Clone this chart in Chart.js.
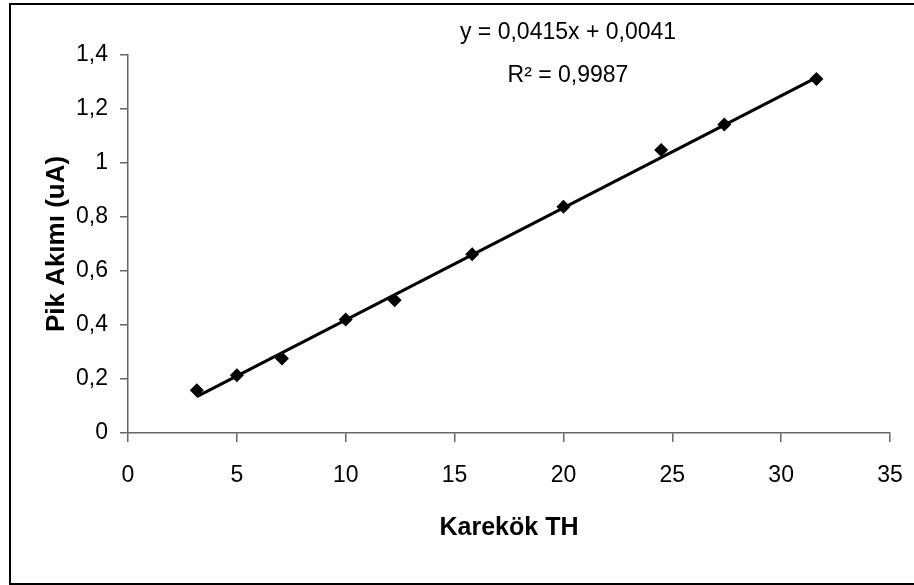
<!DOCTYPE html>
<html>
<head>
<meta charset="utf-8">
<script src="https://cdn.jsdelivr.net/npm/chart.js@4.4.1/dist/chart.umd.min.js"></script>
<style>
  html, body { margin: 0; padding: 0; background: #fff; overflow: hidden; }
  #wrap { position: relative; width: 914px; height: 585px; }
  #frame {
    position: absolute; left: 9px; top: 3px; width: 1000px; height: 578px;
    border: 2px solid #000; pointer-events: none;
  }
</style>
</head>
<body>
<div id="wrap">
  <canvas id="chartCanvas" width="914" height="585"></canvas>
  <div id="frame"></div>
</div>
<script>
// Measured points (square root of TH vs peak current)
const xValues = [3.16, 5, 7.07, 10, 12.25, 15.81, 20, 24.49, 27.39, 31.62];
const yValues = [0.158, 0.214, 0.276, 0.420, 0.492, 0.662, 0.838, 1.048, 1.143, 1.311];

// Trendline ends as drawn in the figure
const trendX = [3.16, 31.62];
const trendY = [0.135, 1.316];

const equationText = 'y = 0,0415x + 0,0041';
const rSquaredText = 'R² = 0,9987';

const fontFamily = '"Liberation Sans", Arial, sans-serif';
const axisColor = '#666666';

const points = xValues.map((x, i) => ({ x: x, y: yValues[i] }));
const trend = trendX.map((x, i) => ({ x: x, y: trendY[i] }));

// Equation label above the line
const equationPlugin = {
  id: 'equation',
  afterDatasetsDraw(chart) {
    const ctx = chart.ctx;
    ctx.save();
    ctx.fillStyle = '#000';
    ctx.font = '23px ' + fontFamily;
    ctx.textAlign = 'center';
    ctx.textBaseline = 'middle';
    ctx.fillText(equationText, 568, 33);
    ctx.fillText(rSquaredText, 568, 76);
    ctx.restore();
  }
};

const fmt = v => String(Math.round(v * 10) / 10).replace('.', ',');

new Chart(document.getElementById('chartCanvas').getContext('2d'), {
  type: 'scatter',
  data: {
    datasets: [{
      label: 'Trend',
      type: 'line',
      data: trend,
      borderColor: '#000',
      borderWidth: 3,
      pointRadius: 0,
      fill: false,
      order: 2
    }, {
      label: 'Pik Akımı',
      data: points,
      pointStyle: 'rectRot',
      pointRadius: 7,
      backgroundColor: '#000',
      borderColor: '#000',
      borderWidth: 0,
      order: 1
    }]
  },
  options: {
    responsive: false,
    animation: false,
    layout: { padding: { top: 55, right: 24, left: 0, bottom: 0 } },
    plugins: {
      legend: { display: false },
      tooltip: { enabled: false }
    },
    scales: {
      x: {
        type: 'linear',
        min: 0,
        max: 35,
        ticks: { stepSize: 5, color: '#000', padding: 20, font: { family: fontFamily, size: 23 } },
        grid: { drawOnChartArea: false, drawTicks: true, tickLength: 9, color: axisColor, lineWidth: 1.5 },
        border: { display: true, color: axisColor, width: 1.5 },
        title: {
          display: true,
          text: 'Karekök TH',
          color: '#000',
          font: { family: fontFamily, size: 25, weight: 'bold' },
          padding: { top: 0, bottom: 42 }
        },
        afterFit(scale) {
          scale.height = 152;
          scale.paddingLeft = 0;
          scale.paddingRight = 0;
        }
      },
      y: {
        min: 0,
        max: 1.4,
        ticks: { stepSize: 0.2, color: '#000', padding: 12, callback: v => fmt(v), font: { family: fontFamily, size: 23 } },
        grid: { drawOnChartArea: false, drawTicks: true, tickLength: 8, color: axisColor, lineWidth: 1.5 },
        border: { display: true, color: axisColor, width: 1.5 },
        title: {
          display: true,
          text: 'Pik Akımı (uA)',
          color: '#000',
          font: { family: fontFamily, size: 26, weight: 'bold' },
          padding: { top: 41, bottom: 0 }
        },
        afterFit(scale) {
          scale.width = 128;
          scale.paddingTop = 0;
          scale.paddingBottom = 0;
        }
      }
    }
  },
  plugins: [equationPlugin]
});
</script>
</body>
</html>
